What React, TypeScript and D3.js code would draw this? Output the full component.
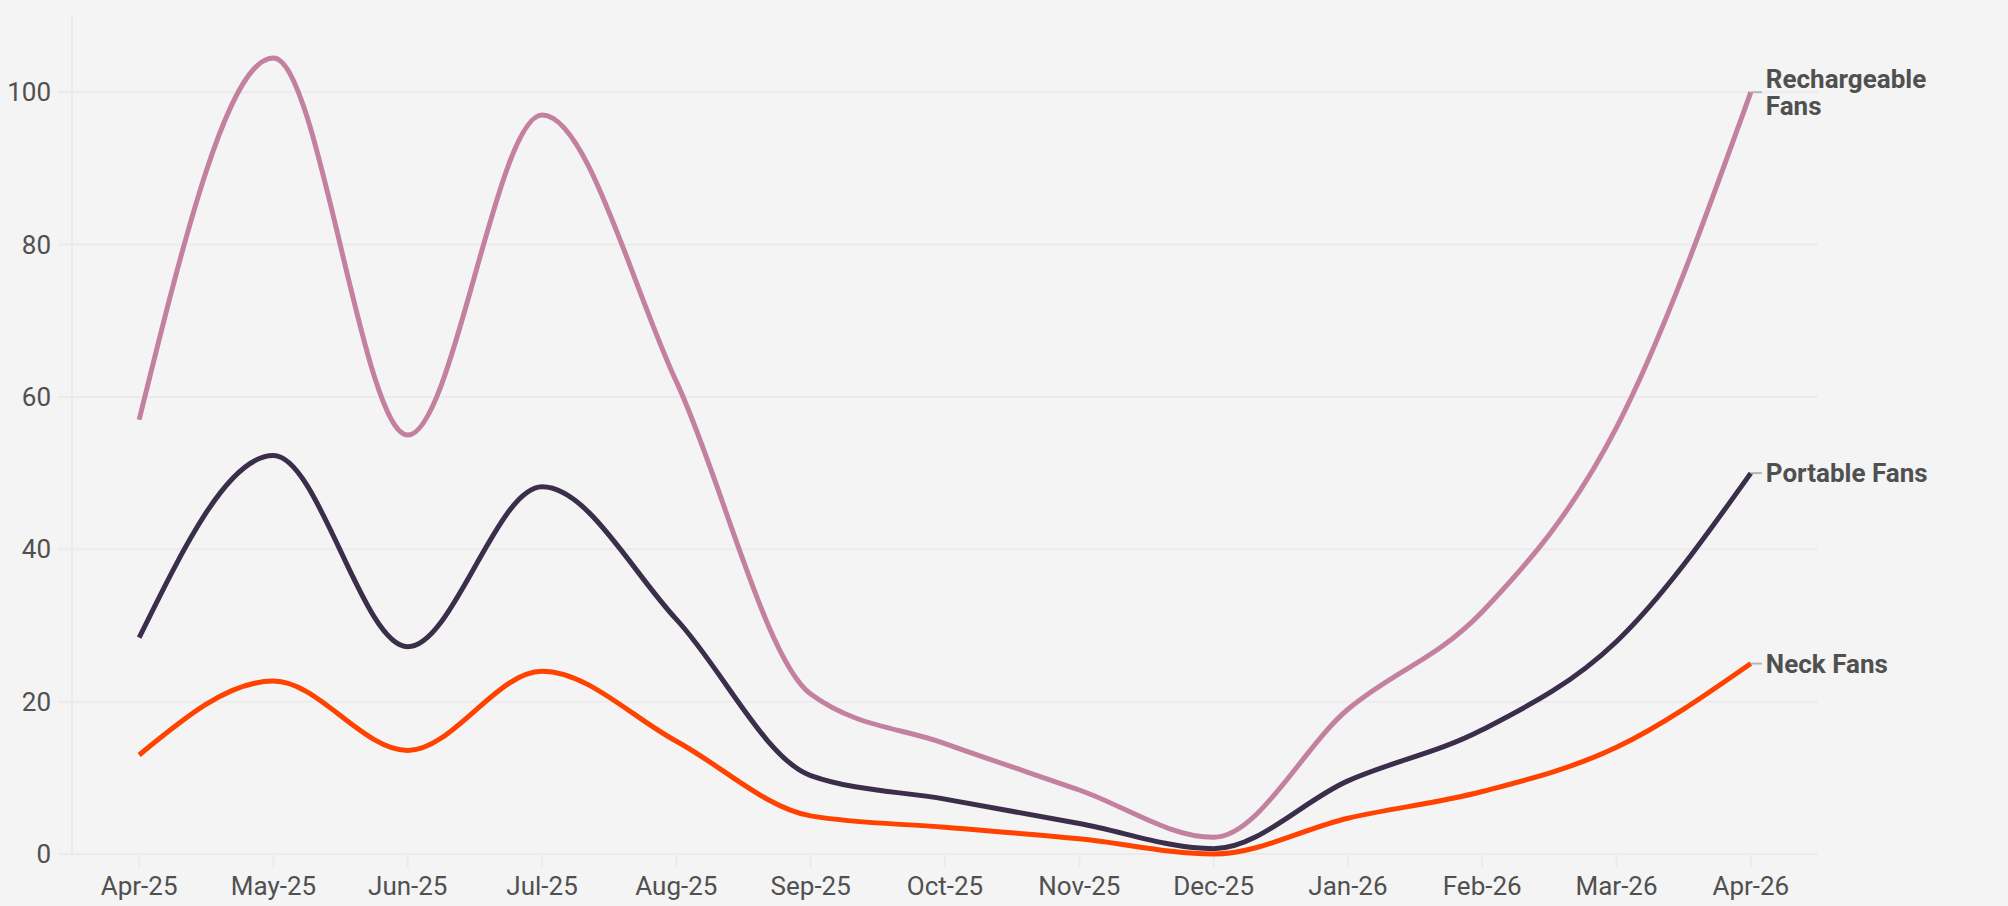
import React from 'react'
import * as d3 from 'd3'

const months = ['Apr-25', 'May-25', 'Jun-25', 'Jul-25', 'Aug-25', 'Sep-25', 'Oct-25', 'Nov-25', 'Dec-25', 'Jan-26', 'Feb-26', 'Mar-26', 'Apr-26']
const rechargeable = [57, 104.5, 55, 97, 62, 21, 14.5, 8.4, 2.2, 19, 31.8, 56, 100]
const portable = [28.4, 52.3, 27.2, 48.2, 30.8, 10.3, 7.2, 4.0, 0.7, 9.6, 16.3, 27.9, 50]
const neck = [13, 22.7, 13.6, 24, 14.8, 5.0, 3.5, 2.0, 0, 4.7, 8.2, 14, 25]
const yTicks = [0, 20, 40, 60, 80, 100]

const series = [
  { name: ['Rechargeable', 'Fans'], values: rechargeable, color: '#c4809f' },
  { name: ['Portable Fans'], values: portable, color: '#3a2e4b' },
  { name: ['Neck Fans'], values: neck, color: '#ff4200' },
]

const W = 2008
const H = 906
const margin = { left: 72, right: 190, top: 16, bottom: 52 }

export default function App() {
  const x = d3.scalePoint<string>()
    .domain(months)
    .range([margin.left, W - margin.right])
    .padding(0.5)
  const y = d3.scaleLinear().domain([0, 110]).range([H - margin.bottom, margin.top])

  const line = d3.line<number>()
    .x((_, i) => x(months[i]) as number)
    .y(d => y(d))
    .curve(d3.curveMonotoneX)

  const font = 'Roboto, "Noto Sans", sans-serif'
  const gridColor = '#ebebeb'
  const textColor = '#505050'

  return (
    <svg width={W} height={H} style={{ position: 'absolute', left: 0, top: 0, background: '#f4f4f4' }}>
      <rect width={W} height={H} fill="#f4f4f4" />
      {/* gridlines */}
      {yTicks.map(t => (
        <g key={t}>
          <line x1={margin.left - 14} x2={W - margin.right} y1={y(t)} y2={y(t)} stroke={gridColor} strokeWidth={2} />
          <text x={margin.left - 21} y={y(t)} dy="0.35em" textAnchor="end" fontFamily={font} fontSize={26} fill={textColor}>{t}</text>
        </g>
      ))}
      <line x1={margin.left} x2={margin.left} y1={margin.top - 1} y2={y(0)} stroke={gridColor} strokeWidth={2} />
      {/* x ticks */}
      {months.map(m => (
        <g key={m}>
          <line x1={x(m)} x2={x(m)} y1={y(0)} y2={y(0) + 14} stroke={gridColor} strokeWidth={2} />
          <text x={x(m)} y={y(0) + 32} dy="0.35em" textAnchor="middle" fontFamily={font} fontSize={26} fill={textColor}>{m}</text>
        </g>
      ))}
      {/* lines */}
      {series.map(s => (
        <path key={s.name.join(' ')} d={line(s.values) || ''} fill="none" stroke={s.color} strokeWidth={5} strokeLinejoin="round" />
      ))}
      {/* labels, one text per line */}
      {series.map(s => {
        const last = s.values[s.values.length - 1]
        const lx = x(months[months.length - 1]) as number
        const ly = y(last)
        const lh = 27
        const startY = ly - ((s.name.length - 1) * lh) / 2
        return (
          <g key={'lab' + s.name.join(' ')}>
            <line x1={lx} x2={lx + 11} y1={ly} y2={ly} stroke="#b5b5b5" strokeWidth={2} />
            {s.name.map((n, i) => (
              <text key={n} x={lx + 15} y={startY + i * lh} dy="0.35em" fontFamily={font} fontWeight={700} fontSize={26} fill={textColor}>{n}</text>
            ))}
          </g>
        )
      })}
    </svg>
  )
}
